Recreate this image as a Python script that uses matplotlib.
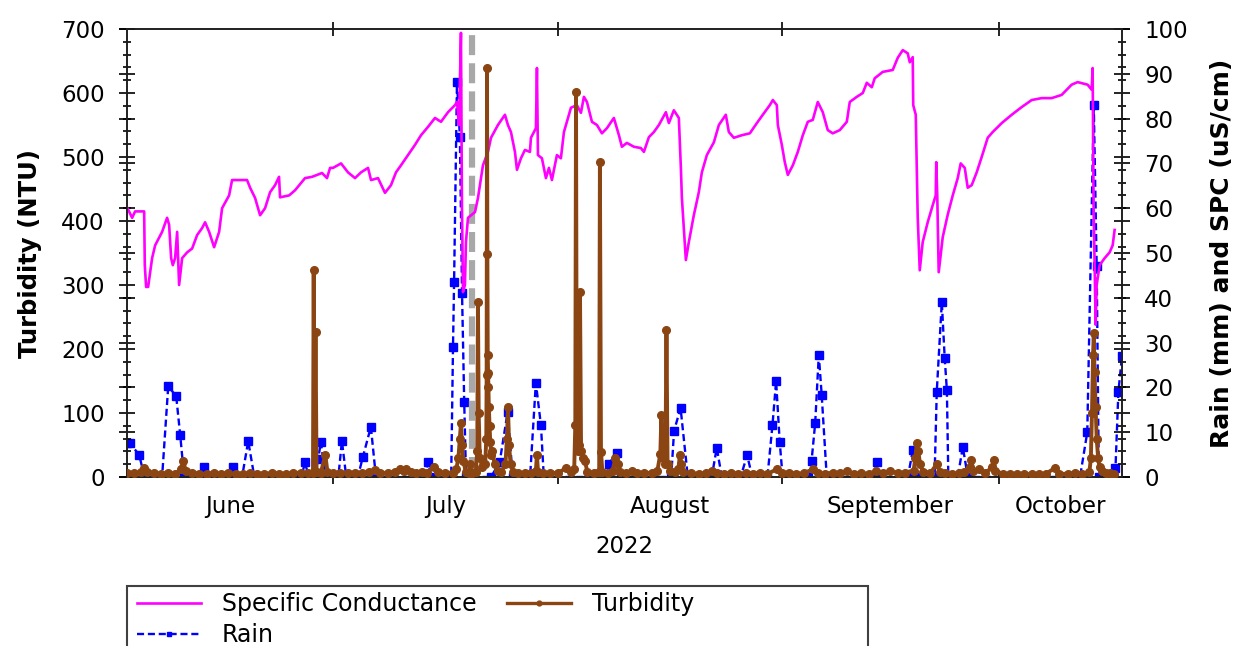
import numpy as np
import pandas as pd
import matplotlib
matplotlib.use("Agg")
import matplotlib.pyplot as plt
import matplotlib.dates as mdates
from matplotlib.lines import Line2D
from matplotlib.patches import Rectangle
from matplotlib.ticker import MultipleLocator, FixedLocator, NullFormatter, FixedFormatter

# ---------------- data (days counted from 2022-06-01 00:00) ----------------
base_date = "2022-06-01"

spc_day = [1.52, 2.21, 2.62, 3.87, 3.96, 4.14, 4.42, 4.97, 5.39, 6.35, 7.04, 7.32, 7.60, 7.83,
           8.15, 8.43, 8.70, 9.12, 9.81, 10.50, 11.19, 11.88, 12.29, 12.85, 13.54, 14.23, 14.64,
           15.61, 16.02, 16.30, 18.09, 18.51, 19.20, 19.75, 19.89, 20.58, 21.27, 21.96, 22.51,
           22.65, 23.90, 24.72, 26.10, 27.07, 28.45, 29.14, 29.56, 29.97, 31.08, 32.04, 33.01,
           33.84, 34.81, 35.22, 36.19, 37.15, 37.98, 38.67, 39.36, 40.33, 41.30, 42.13, 43.09,
           44.06, 44.89, 45.86, 46.82, 47.10, 47.38, 47.65, 47.79, 47.93, 48.20, 48.34, 48.62,
           49.59, 50.00, 50.69, 51.38, 51.80, 52.76, 53.73, 54.14, 54.56, 55.11, 55.39, 55.94,
           56.49, 57.18, 57.32, 58.01, 58.15, 58.29, 58.84, 59.39, 59.81, 60.22, 60.91, 61.46,
           61.88, 62.29, 62.85, 63.67, 64.23, 64.64, 65.06, 65.75, 66.44, 67.13, 67.82, 68.78,
           69.48, 69.89, 70.58, 71.55, 72.51, 72.93, 73.62, 74.31, 75.00, 75.97, 76.38, 77.07,
           77.76, 78.04, 78.18, 78.73, 79.14, 79.83, 80.52, 80.94, 81.63, 82.60, 83.29, 84.25,
           84.67, 85.36, 86.46, 87.57, 88.54, 89.36, 90.33, 90.75, 91.30, 91.44, 91.99, 92.40,
           92.82, 93.51, 94.20, 94.89, 95.58, 96.27, 96.96, 97.65, 98.34, 99.03, 100.00, 100.97,
           101.38, 102.35, 103.18, 103.73, 104.42, 104.83, 105.94, 107.32, 108.01, 108.70,
           109.39, 109.67, 110.08, 110.15, 110.50, 110.64, 110.77, 111.05, 111.46, 112.15,
           112.85, 113.26, 113.33, 113.47, 113.67, 114.23, 114.92, 115.61, 116.30, 116.71,
           117.27, 117.68, 118.23, 118.92, 119.61, 120.44, 121.13, 122.38, 123.76, 125.14,
           126.52, 127.90, 129.28, 130.66, 132.04, 132.87, 134.25, 134.81, 134.94, 135.08,
           135.36, 135.50, 135.91, 136.60, 137.29, 137.71, 137.98]
spc_val = [421, 405, 415, 415, 331, 297, 297, 342, 362, 383, 405, 394, 342, 331,
           342, 383, 300, 342, 351, 357, 378, 389, 398, 383, 359, 383, 420,
           440, 464, 464, 464, 452, 436, 414, 409, 420, 445, 456, 469,
           437, 440, 448, 467, 469, 475, 467, 483, 483, 490, 476, 467,
           476, 483, 464, 467, 444, 456, 476, 487, 503, 519, 534, 547,
           561, 555, 570, 581, 586, 550, 694, 420, 289, 300, 367, 405,
           414, 436, 487, 508, 530, 550, 566, 550, 539, 508, 480, 498,
           511, 508, 530, 545, 639, 503, 498, 467, 483, 464, 503, 498,
           539, 555, 577, 581, 569, 594, 586, 555, 550, 537, 545, 561,
           534, 516, 522, 516, 514, 508, 531, 539, 550, 570, 553, 573,
           561, 483, 436, 339, 367, 409, 445, 476, 503, 523, 550, 566,
           539, 530, 534, 537, 553, 566, 581, 589, 581, 550, 519, 492,
           472, 487, 508, 534, 555, 558, 586, 570, 542, 537, 542, 555,
           586, 594, 600, 616, 609, 623, 633, 636, 655, 667,
           662, 648, 656, 581, 566, 487, 406, 323, 367, 398,
           425, 440, 492, 440, 320, 375, 410, 440, 467, 490,
           483, 452, 456, 476, 500, 530, 539, 553, 566, 578,
           589, 592, 592, 597, 613, 617, 613, 605, 639, 420,
           238, 300, 331, 342, 351, 362, 386]

turb_day = [1.5, 2.5, 3.5, 3.9, 4.3, 5.2, 6.2, 7.2, 8.2, 8.9, 9.3, 9.6, 10.5, 11.5, 12.5, 13.5,
            14.5, 15.5, 16.5, 17.5, 18.5, 19.5, 20.5, 21.5, 22.5, 23.5, 24.5, 25.5, 26.5, 27.2,
            27.3, 27.4, 27.55, 27.7, 28.3, 28.9, 29.2, 30.0, 31.0, 32.0, 33.0, 34.0, 35.0, 35.8,
            36.5, 37.5, 38.5, 39.2, 39.8, 40.1, 40.8, 41.5, 42.2, 43.0, 43.9, 44.5, 45.5, 46.5,
            47.0, 47.3, 47.5, 47.65, 47.8, 48.0, 48.3, 48.8, 48.95, 49.2, 49.7, 49.9, 50.0, 50.1,
            50.25, 50.6, 51.0, 51.15, 51.2, 51.25, 51.3, 51.35, 51.4, 51.45, 51.5, 51.6, 51.7,
            51.85, 52.0, 52.3, 52.7, 53.2, 53.8, 54.0, 54.15, 54.3, 54.5, 54.9, 55.5, 56.5, 57.3,
            58.0, 58.15, 58.3, 59.0, 60.0, 61.0, 62.2, 62.8, 63.3, 63.45, 63.55, 63.65, 63.8,
            63.95, 64.1, 64.25, 64.5, 64.8, 65.1, 66.0, 66.75, 66.85, 67.0, 67.2, 68.0, 68.6,
            69.0, 69.3, 69.6, 70.5, 71.3, 72.0, 73.0, 74.0, 74.8, 75.2, 75.35, 75.55, 75.9,
            76.05, 76.2, 76.5, 77.2, 77.7, 77.9, 78.1, 78.4, 79.5, 80.5, 81.5, 82.3, 83.0, 84.0,
            85.0, 86.0, 87.0, 88.0, 89.0, 90.0, 91.3, 92.0, 93.0, 94.0, 95.0, 96.3, 97.0, 98.0,
            99.0, 100.0, 101.0, 102.0, 103.0, 104.0, 105.0, 106.0, 107.0, 108.0, 109.0, 110.2,
            110.45, 110.65, 110.85, 111.1, 111.5, 112.5, 113.4, 113.8, 114.5, 115.5, 116.5,
            117.2, 118.0, 118.2, 118.4, 119.3, 120.0, 121.1, 121.3, 121.5, 122.5, 123.5, 124.5,
            125.5, 126.5, 127.5, 128.5, 129.7, 130.3, 131.5, 132.5, 133.5, 134.5, 134.7, 134.85,
            135.0, 135.1, 135.2, 135.35, 135.5, 135.7, 135.9, 136.3, 136.8, 137.3, 137.9]
turb_ntu = [7, 6, 8, 14, 8, 6, 5, 6, 5, 12, 25, 10, 6, 5, 5, 6,
            5, 6, 5, 5, 6, 5, 5, 6, 5, 5, 6, 7, 6, 6,
            323, 8, 227, 8, 7, 35, 8, 6, 7, 6, 7, 6, 8, 11,
            7, 6, 8, 12, 9, 13, 8, 7, 8, 7, 16, 8, 6, 7,
            12, 30, 60, 84, 50, 25, 8, 6, 20, 6, 8, 40, 273, 100,
            30, 15, 20, 60, 160, 639, 348, 190, 162, 140, 110, 80, 55,
            35, 40, 20, 10, 8, 20, 60, 109, 50, 20, 8, 6, 6, 7,
            10, 34, 8, 6, 7, 6, 14, 8, 12, 81, 601, 60, 40,
            50, 289, 40, 30, 25, 8, 6, 8, 492, 39, 8, 6, 10,
            30, 20, 8, 6, 10, 6, 7, 6, 10, 36, 97, 30, 20,
            230, 20, 10, 8, 12, 34, 20, 8, 6, 5, 6, 10, 6, 5,
            6, 5, 6, 5, 6, 5, 12, 6, 7, 5, 6, 12, 6, 5,
            7, 6, 9, 5, 6, 5, 9, 6, 10, 6, 7, 10,
            30, 53, 40, 20, 8, 6, 20, 8, 6, 5, 6,
            8, 15, 27, 10, 12, 6, 15, 27, 10, 5, 5, 4,
            5, 4, 5, 5, 14, 5, 5, 6, 5, 8, 30, 100,
            190, 225, 164, 110, 60, 30, 15, 10, 7, 6, 5]

rain_day = [1.5, 1.93, 3.2, 3.9, 6.35, 7.2, 8.3, 8.85, 9.4, 11.6, 12.15, 12.6, 15.7, 16.2, 16.7,
            17.4, 18.25, 19.1, 25.6, 26.1, 26.6, 27.4, 27.9, 28.3, 28.9, 30.7, 31.2, 31.8,
            33.4, 34.1, 35.2, 35.9, 42.6, 43.1, 43.6, 46.3, 46.55, 46.7, 47.1, 47.5, 47.8,
            48.1, 48.35, 51.8, 53.0, 54.1, 54.8, 57.2, 58.0, 58.7, 59.1, 67.8, 68.1, 69.2,
            69.8, 76.7, 77.1, 78.0, 79.0, 82.3, 83.0, 83.7, 86.3, 87.2, 87.9, 90.0, 90.7,
            91.2, 91.7, 92.1, 95.6, 96.1, 96.6, 97.1, 97.5, 98.2, 104.6, 105.1, 105.5, 109.4,
            110.1, 110.6, 113.1, 113.4, 114.1, 114.5, 114.8, 115.0, 116.3, 117.0, 117.7,
            133.2, 134.2, 135.1, 135.5, 135.8, 137.8, 138.1, 138.5, 139.0]
rain_mm = [7.5, 7.5, 4.9, 0, 0, 20.3, 18.0, 9.4, 0, 0, 2.3, 0, 0, 2.3, 0,
           0, 8.0, 0, 0, 3.3, 0, 0, 4.0, 7.8, 0, 0, 8.0, 0,
           0, 4.5, 11.2, 0, 0, 3.3, 0, 0, 29, 43.5, 88.2, 76, 41,
           16.7, 0, 0, 3.3, 14.5, 0, 0, 21, 11.6, 0, 0, 3, 5.4,
           0, 0, 10.3, 15.4, 0, 0, 6.5, 0, 0, 4.9, 0, 0, 11.6,
           21.4, 7.8, 0, 0, 3.6, 12, 27.2, 18.3, 0, 0, 3.3, 0, 0,
           6.0, 0, 0, 19, 39, 26.5, 19.4, 0, 0, 6.7, 0,
           0, 10, 83, 47, 0, 0, 2, 19, 27]

event_date = "2022-07-20 05:00"
x_start, x_end = "2022-06-02 12:00", "2022-10-18 00:00"
month_names = ["June", "July", "August", "September", "October"]

# ---------------- figure ----------------
plt.rcParams['font.family'] = ['DejaVu Sans']
W, H = 1238, 646
fig = plt.figure(figsize=(W / 100, H / 100), dpi=100)
ax1 = fig.add_axes([127 / W, 1 - 477 / H, (1122 - 127) / W, (477 - 29) / H])
ax2 = ax1.twinx()
ax1.set_zorder(ax2.get_zorder() + 1)
ax1.patch.set_visible(False)

b = pd.Timestamp(base_date)
to_dt = lambda d: b + pd.to_timedelta(np.asarray(d, dtype=float), unit="D")

MAG = "#FF00FF"
BROWN = "#8B4513"
BLUE = "#0000FF"

ax2.plot(to_dt(rain_day), rain_mm, color=BLUE, ls=(0, (3, 1.6)), lw=1.7,
         marker="s", ms=6, zorder=2)
ax1.axvline(pd.Timestamp(event_date), color="#A8A8A8", lw=4.5, ls=(0, (3.2, 1.3)), zorder=1)
ax1.plot(to_dt(spc_day), spc_val, color=MAG, lw=1.9, zorder=2)
ax1.plot(to_dt(turb_day), turb_ntu, color=BROWN, lw=2.8, marker="o", ms=5.5, zorder=3)

ax1.set_ylim(0, 700)
ax2.set_ylim(0, 100)
x0, x1 = pd.Timestamp(x_start), pd.Timestamp(x_end)
ax1.set_xlim(x0, x1)

TICK_FS = 16.5
# y ticks
ax1.yaxis.set_major_locator(MultipleLocator(100))
ax1.yaxis.set_minor_locator(MultipleLocator(20))
ax2.yaxis.set_major_locator(MultipleLocator(10))
ax1.tick_params(axis="y", which="major", direction="inout", length=12, width=1.2,
                labelsize=TICK_FS, pad=10, right=True)
ax1.tick_params(axis="y", which="minor", direction="inout", length=6, width=1.2, right=True)
ax2.tick_params(axis="y", which="major", direction="inout", length=12, width=1.2,
                labelsize=TICK_FS, pad=10, left=True)

# x ticks: month boundaries unlabeled, labels centred on visible part of months
month_starts = pd.date_range("2022-06-01", "2022-11-01", freq="MS")
bounds = [m for m in month_starts if x0 < m < x1]
ax1.xaxis.set_major_locator(FixedLocator(mdates.date2num(bounds)))
ax1.xaxis.set_major_formatter(NullFormatter())
edges = [x0] + bounds + [x1]
centers = [edges[i] + (edges[i + 1] - edges[i]) / 2 for i in range(len(edges) - 1)]
ax1.xaxis.set_minor_locator(FixedLocator(mdates.date2num(centers)))
ax1.xaxis.set_minor_formatter(FixedFormatter(month_names))
ax1.tick_params(axis="x", which="major", direction="inout", length=10, width=1.2, top=True)
ax1.tick_params(axis="x", which="minor", length=0, labelsize=TICK_FS, pad=13)
ax1.set_xlabel("2022", fontsize=TICK_FS, labelpad=12)

for ax in (ax1, ax2):
    for s in ax.spines.values():
        s.set_linewidth(1.2)
        s.set_color("#202020")

ax1.set_ylabel("Turbidity (NTU)", fontsize=17.5, fontweight="bold", labelpad=14)
ax2.set_ylabel("Rain (mm) and SPC (uS/cm)", fontsize=18, fontweight="bold", labelpad=16)

# legend
handles = [Line2D([], [], color=MAG, lw=1.9),
           Line2D([], [], color=BLUE, ls=(0, (3, 1.6)), lw=1.7, marker="s", ms=3.5),
           Line2D([], [], color=BROWN, lw=2.4, marker="o", ms=3.5)]
labels = ["Specific Conductance", "Rain", "Turbidity"]
fig.legend(handles, labels, ncol=2, loc="upper left", bbox_to_anchor=(137 / W, 1 - 592 / H),
           frameon=False, fontsize=17, handlelength=2.7, handletextpad=0.9,
           columnspacing=1.3, borderpad=0, labelspacing=0.3, borderaxespad=0)
fig.add_artist(Rectangle((127 / W, -0.2), 741 / W, 0.2 + 1 - 586 / H, transform=fig.transFigure,
                         fill=False, edgecolor="#404040", lw=1.5, clip_on=False))

fig.savefig("out.png", dpi=100)
